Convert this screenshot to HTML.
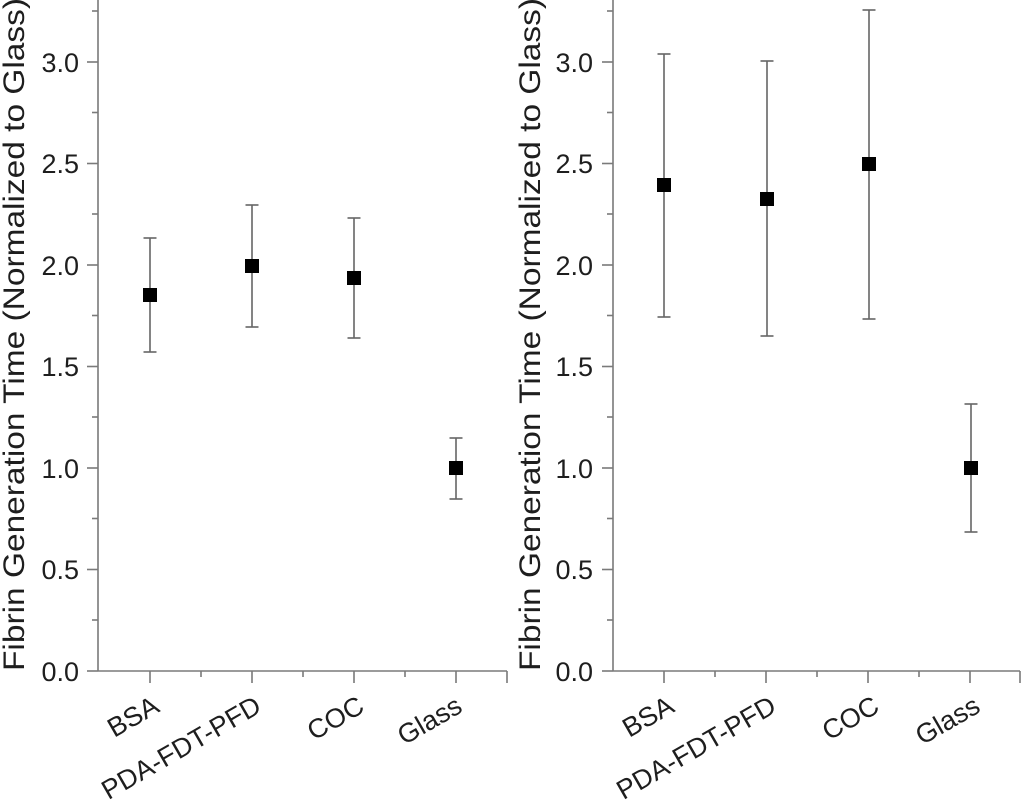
<!DOCTYPE html>
<html>
<head>
<meta charset="utf-8">
<style>
  html, body { margin: 0; padding: 0; background: #ffffff; }
  svg { display: block; }
  text { font-family: "Liberation Sans", Arial, sans-serif; fill: #1e1e1e; }
</style>
</head>
<body>
<svg width="1024" height="800" viewBox="0 0 1024 800" xmlns="http://www.w3.org/2000/svg">
  <rect width="1024" height="800" fill="#ffffff"/>

  <!-- ============ LEFT PANEL ============ -->
  <g stroke="#7a7a7a" stroke-width="1.6" fill="none">
    <line x1="98" y1="0" x2="98" y2="671"/>
    <line x1="98" y1="671" x2="507" y2="671"/>
    <line x1="87" y1="671" x2="98" y2="671"/>
    <line x1="87" y1="569.5" x2="98" y2="569.5"/>
    <line x1="87" y1="468" x2="98" y2="468"/>
    <line x1="87" y1="366.5" x2="98" y2="366.5"/>
    <line x1="87" y1="265" x2="98" y2="265"/>
    <line x1="87" y1="163.5" x2="98" y2="163.5"/>
    <line x1="87" y1="62" x2="98" y2="62"/>
    <line x1="92" y1="620" x2="98" y2="620"/>
    <line x1="92" y1="518.5" x2="98" y2="518.5"/>
    <line x1="92" y1="417" x2="98" y2="417"/>
    <line x1="92" y1="315.5" x2="98" y2="315.5"/>
    <line x1="92" y1="214" x2="98" y2="214"/>
    <line x1="92" y1="112.5" x2="98" y2="112.5"/>
    <line x1="92" y1="11" x2="98" y2="11"/>
    <line x1="150" y1="671" x2="150" y2="683"/>
    <line x1="252" y1="671" x2="252" y2="683"/>
    <line x1="354" y1="671" x2="354" y2="683"/>
    <line x1="456" y1="671" x2="456" y2="683"/>
    <line x1="201" y1="671" x2="201" y2="677"/>
    <line x1="303" y1="671" x2="303" y2="677"/>
    <line x1="405" y1="671" x2="405" y2="677"/>
    <line x1="507" y1="671" x2="507" y2="683"/>
  </g>

  <g font-size="27" text-anchor="end">
    <text x="79" y="681">0.0</text>
    <text x="79" y="579">0.5</text>
    <text x="79" y="478">1.0</text>
    <text x="79" y="376">1.5</text>
    <text x="79" y="275">2.0</text>
    <text x="79" y="173">2.5</text>
    <text x="79" y="72">3.0</text>
  </g>

  <text transform="translate(24,671) rotate(-90)" font-size="30" textLength="673" lengthAdjust="spacingAndGlyphs">Fibrin Generation Time (Normalized to Glass)</text>

  <g font-size="27" text-anchor="end">
    <text transform="translate(161,711) rotate(-30)">BSA</text>
    <text transform="translate(263,711) rotate(-30)">PDA-FDT-PFD</text>
    <text transform="translate(366,711) rotate(-30)">COC</text>
    <text transform="translate(464,711) rotate(-30)">Glass</text>
  </g>

  <g stroke="#666666" stroke-width="1.6" fill="none">
    <line x1="150" y1="238" x2="150" y2="352"/>
    <line x1="143.5" y1="238" x2="156.5" y2="238"/>
    <line x1="143.5" y1="352" x2="156.5" y2="352"/>

    <line x1="252" y1="205" x2="252" y2="327"/>
    <line x1="245.5" y1="205" x2="258.5" y2="205"/>
    <line x1="245.5" y1="327" x2="258.5" y2="327"/>

    <line x1="354" y1="218" x2="354" y2="338"/>
    <line x1="347.5" y1="218" x2="360.5" y2="218"/>
    <line x1="347.5" y1="338" x2="360.5" y2="338"/>

    <line x1="456" y1="438" x2="456" y2="499"/>
    <line x1="449.5" y1="438" x2="462.5" y2="438"/>
    <line x1="449.5" y1="499" x2="462.5" y2="499"/>
  </g>
  <g fill="#000000">
    <rect x="143" y="288" width="14" height="14"/>
    <rect x="245" y="259" width="14" height="14"/>
    <rect x="347" y="271" width="14" height="14"/>
    <rect x="449" y="461" width="14" height="14"/>
  </g>

  <!-- ============ RIGHT PANEL ============ -->
  <g stroke="#7a7a7a" stroke-width="1.6" fill="none">
    <line x1="613" y1="0" x2="613" y2="671"/>
    <line x1="613" y1="671" x2="1020" y2="671"/>
    <line x1="602" y1="671" x2="613" y2="671"/>
    <line x1="602" y1="569.5" x2="613" y2="569.5"/>
    <line x1="602" y1="468" x2="613" y2="468"/>
    <line x1="602" y1="366.5" x2="613" y2="366.5"/>
    <line x1="602" y1="265" x2="613" y2="265"/>
    <line x1="602" y1="163.5" x2="613" y2="163.5"/>
    <line x1="602" y1="62" x2="613" y2="62"/>
    <line x1="607" y1="620" x2="613" y2="620"/>
    <line x1="607" y1="518.5" x2="613" y2="518.5"/>
    <line x1="607" y1="417" x2="613" y2="417"/>
    <line x1="607" y1="315.5" x2="613" y2="315.5"/>
    <line x1="607" y1="214" x2="613" y2="214"/>
    <line x1="607" y1="112.5" x2="613" y2="112.5"/>
    <line x1="607" y1="11" x2="613" y2="11"/>
    <line x1="664" y1="671" x2="664" y2="683"/>
    <line x1="766" y1="671" x2="766" y2="683"/>
    <line x1="868" y1="671" x2="868" y2="683"/>
    <line x1="970" y1="671" x2="970" y2="683"/>
    <line x1="715" y1="671" x2="715" y2="677"/>
    <line x1="817" y1="671" x2="817" y2="677"/>
    <line x1="919" y1="671" x2="919" y2="677"/>
    <line x1="1020" y1="671" x2="1020" y2="683"/>
  </g>

  <g font-size="27" text-anchor="end">
    <text x="593" y="681">0.0</text>
    <text x="593" y="579">0.5</text>
    <text x="593" y="478">1.0</text>
    <text x="593" y="376">1.5</text>
    <text x="593" y="275">2.0</text>
    <text x="593" y="173">2.5</text>
    <text x="593" y="72">3.0</text>
  </g>

  <text transform="translate(540,671) rotate(-90)" font-size="30" textLength="673" lengthAdjust="spacingAndGlyphs">Fibrin Generation Time (Normalized to Glass)</text>

  <g font-size="27" text-anchor="end">
    <text transform="translate(676,711) rotate(-30)">BSA</text>
    <text transform="translate(778,711) rotate(-30)">PDA-FDT-PFD</text>
    <text transform="translate(881,711) rotate(-30)">COC</text>
    <text transform="translate(982,711) rotate(-30)">Glass</text>
  </g>

  <g stroke="#666666" stroke-width="1.6" fill="none">
    <line x1="664" y1="54" x2="664" y2="317"/>
    <line x1="657.5" y1="54" x2="670.5" y2="54"/>
    <line x1="657.5" y1="317" x2="670.5" y2="317"/>

    <line x1="767" y1="61" x2="767" y2="336"/>
    <line x1="760.5" y1="61" x2="773.5" y2="61"/>
    <line x1="760.5" y1="336" x2="773.5" y2="336"/>

    <line x1="869" y1="10" x2="869" y2="319"/>
    <line x1="862.5" y1="10" x2="875.5" y2="10"/>
    <line x1="862.5" y1="319" x2="875.5" y2="319"/>

    <line x1="971" y1="404" x2="971" y2="532"/>
    <line x1="964.5" y1="404" x2="977.5" y2="404"/>
    <line x1="964.5" y1="532" x2="977.5" y2="532"/>
  </g>
  <g fill="#000000">
    <rect x="657" y="178" width="14" height="14"/>
    <rect x="760" y="192" width="14" height="14"/>
    <rect x="862" y="157" width="14" height="14"/>
    <rect x="964" y="461" width="14" height="14"/>
  </g>
</svg>
</body>
</html>
